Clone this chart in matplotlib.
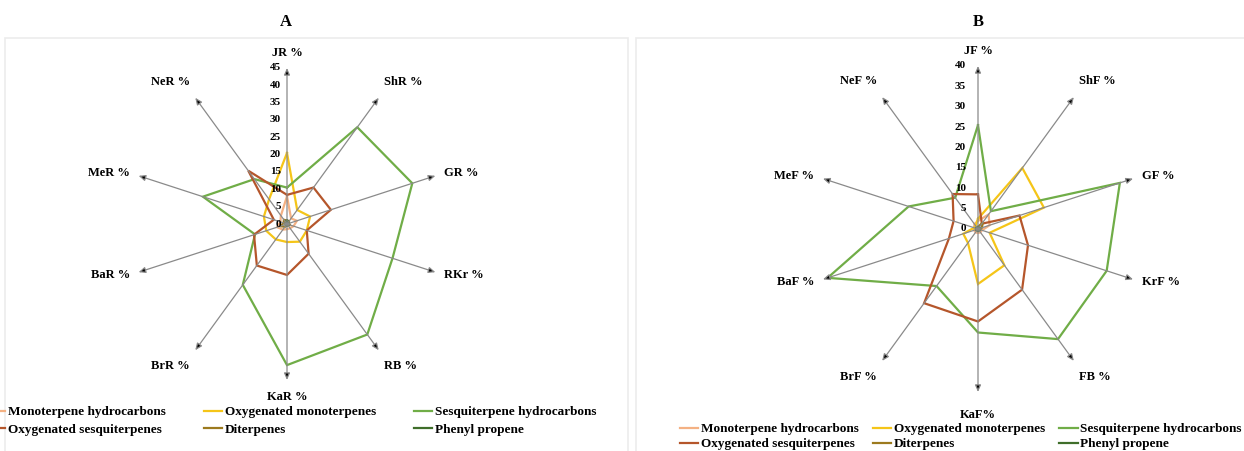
import numpy as np
import matplotlib.pyplot as plt
from matplotlib.lines import Line2D
from matplotlib.patches import Rectangle

# compound classes (%) per organ and region
axes_A = ['JR %', 'ShR %', 'GR %', 'RKr %', 'RB %', 'KaR %', 'BrR %', 'BaR %', 'MeR %', 'NeR %']
axes_B = ['JF %', 'ShF %', 'GF %', 'KrF %', 'FB %', 'KaF%', 'BrF %', 'BaF %', 'MeF %', 'NeF %']

mono_hc_A = [8, 2, 3, 2, 1.5, 1.5, 2, 3, 2, 3]
oxy_mono_A = [20.5, 5, 7, 6, 6.3, 5.2, 5.5, 6.3, 7, 8.8]
sesq_hc_A = [10.5, 34.5, 38, 32, 39.4, 40.7, 21.7, 9.7, 25.5, 16]
oxy_sesq_A = [8.4, 13, 13.3, 6, 10.6, 14.7, 14.8, 10, 4, 19]
diterp_A = [1, 1, 0.5, 1, 0.5, 0.5, 1, 2, 1, 1.5]
phenyl_A = [1, 0.5, 0.5, 0.5, 0.5, 0.5, 0.5, 0.5, 0.5, 0.5]

mono_hc_B = [2, 4.4, 3, 1, 1, 1, 1, 1, 1, 1.5]
oxy_mono_B = [2.5, 18.5, 17, 3, 11, 13.5, 4.2, 3.8, 1, 1]
sesq_hc_B = [25.5, 5.4, 36.6, 33.2, 33.4, 25.4, 17.3, 38.8, 17.9, 9.5]
oxy_sesq_B = [8.5, 1.6, 10.7, 12.9, 18.4, 22.7, 22.5, 7.5, 6.3, 10.6]
diterp_B = [0.5, 2, 1, 0.5, 0.5, 0.5, 0.5, 0.5, 0.5, 0.5]
phenyl_B = [0.5, 0.5, 0.5, 0.5, 0.5, 0.5, 0.5, 0.5, 0.5, 0.5]

series_names = ['Monoterpene hydrocarbons', 'Oxygenated monoterpenes',
                'Sesquiterpene hydrocarbons', 'Oxygenated sesquiterpenes',
                'Diterpenes', 'Phenyl propene']
colors = ['#F4B183', '#F5C518', '#70AD47', '#B5562B', '#9C7A1E', '#3F6E2A']

plt.rcParams['font.family'] = 'Liberation Serif'
plt.rcParams['font.weight'] = 'bold'

W, H = 1244, 451
fig = plt.figure(figsize=(W / 100, H / 100), dpi=100)

# faint panel frames
for x0, x1 in [(5, 628), (636, 1250)]:
    fig.patches.append(Rectangle((x0 / W, -0.01), (x1 - x0) / W, (H - 38) / H + 0.01,
                                 transform=fig.transFigure, fill=False,
                                 ec='#ececec', lw=1.2))


def radar(cx, cy, px_unit, rmax, labels, data, tick_gap, bottom_pad):
    half = 200
    ax = fig.add_axes([(cx - half) / W, (H - cy - half) / H, 2 * half / W, 2 * half / H])
    lim = half / px_unit
    ax.set_xlim(-lim, lim)
    ax.set_ylim(-lim, lim)
    ax.set_axis_off()

    ang = np.deg2rad(90 - 36 * np.arange(len(labels)))
    c, s = np.cos(ang), np.sin(ang)
    for ci, si, lab in zip(c, s, labels):
        ax.annotate('', xy=(rmax * ci, rmax * si), xytext=(0, 0),
                    arrowprops=dict(arrowstyle='-|>,head_length=0.5,head_width=0.22',
                                    ec='#8a8a8a', fc='black', lw=0.9,
                                    shrinkA=0, shrinkB=0, mutation_scale=8))
        ha = 'left' if ci > 0.1 else ('right' if ci < -0.1 else 'center')
        va = 'bottom' if si > 0.5 else ('top' if si < -0.5 else 'center')
        pad = (bottom_pad if si < -0.99 else 9) / px_unit
        dy = 3 / px_unit if 0.5 < abs(si) < 0.99 else 0
        ax.text((rmax + pad) * ci, (rmax + pad) * si + dy * np.sign(si), lab,
                ha=ha, va=va, fontsize=9)

    for v in range(0, rmax + 1, 5):
        ax.text(-tick_gap / px_unit, v, str(v), ha='right', va='center', fontsize=8)

    for vals, col in zip(data, colors):
        vals = np.asarray(vals, float)
        x = np.r_[vals * c, vals[0] * c[0]]
        y = np.r_[vals * s, vals[0] * s[0]]
        ax.plot(x, y, color=col, lw=1.6, solid_joinstyle='miter')
    return ax


radar(287, 224, 3.467, 45, axes_A,
      [mono_hc_A, oxy_mono_A, sesq_hc_A, oxy_sesq_A, diterp_A, phenyl_A], 6, 11)
radar(978, 229, 4.075, 40, axes_B,
      [mono_hc_B, oxy_mono_B, sesq_hc_B, oxy_sesq_B, diterp_B, phenyl_B], 12, 17)

fig.text(286 / W, 1 - 22 / H, 'A', ha='center', va='center', fontsize=12)
fig.text(978 / W, 1 - 22 / H, 'B', ha='center', va='center', fontsize=12)

# legends, filled row by row
handles = [Line2D([], [], color=col, lw=1.6) for col in colors]
order = [0, 3, 1, 4, 2, 5]
for x, y, gap, lsp in [(-13, 406, 2.85, 0.42), (680, 423, 1.05, 0.22)]:
    fig.legend([handles[i] for i in order], [series_names[i] for i in order],
               loc='upper left', bbox_to_anchor=(x / W, 1 - y / H), ncol=3,
               frameon=False, fontsize=9.5, handlelength=1.4, handletextpad=0.2,
               columnspacing=gap, labelspacing=lsp, borderaxespad=0, borderpad=0)

fig.savefig('out.png', dpi=100)
